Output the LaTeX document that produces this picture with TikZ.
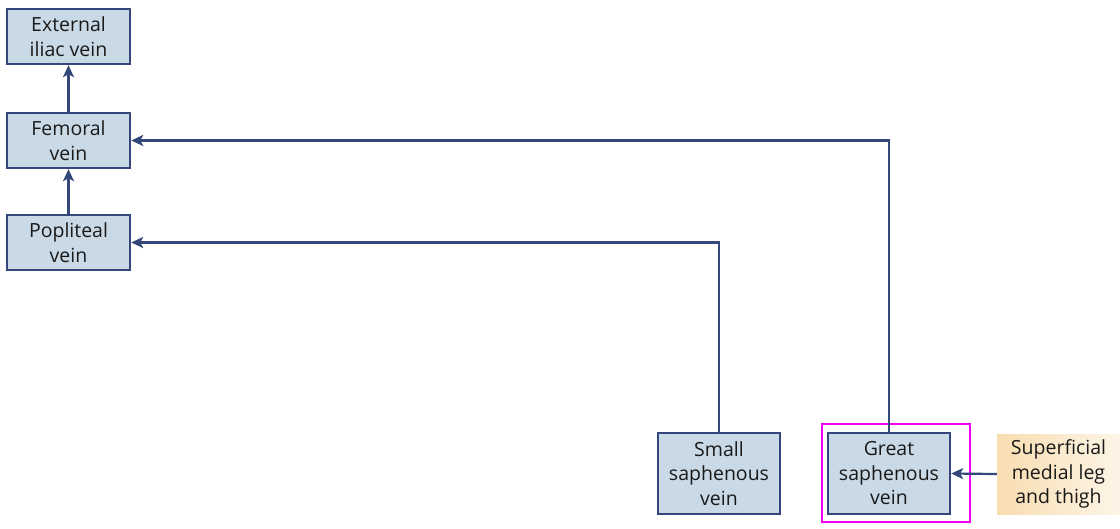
\documentclass[tikz,border=0pt]{standalone}
\usepackage{fontspec}
\setmainfont{Open Sans}
\usetikzlibrary{arrows.meta,shadings}
\definecolor{boxfill}{HTML}{C9DAE6}
\definecolor{boxline}{HTML}{34477A}
\definecolor{tan}{HTML}{F8DDB0}
\definecolor{hl}{HTML}{F000F0}
\tikzset{
  x=1pt,y=-1pt,
  vbox/.style={draw=boxline,line width=2.4pt,fill=boxfill,align=center,font=\fontsize{19.5}{24.5}\selectfont,text=black!90,inner sep=0pt},
  conn/.style={draw=boxline,line width=2.2pt,-{Stealth[length=12pt,width=11pt,inset=3pt]}},
}
\begin{document}
\begin{tikzpicture}
\useasboundingbox (0,0) rectangle (1120,528);
\node[vbox,minimum width=123pt,minimum height=55pt] (ext) at (68.5,36.5) {External\\iliac vein};
\node[vbox,minimum width=123pt,minimum height=55pt] (fem) at (68.5,140.5) {Femoral\\vein};
\node[vbox,minimum width=123pt,minimum height=55pt] (pop) at (68.5,242.5) {Popliteal\\vein};
\node[vbox,minimum width=122pt,minimum height=81pt] (ssv) at (719,473.5) {Small\\saphenous\\vein};
\node[vbox,minimum width=122pt,minimum height=81pt] (gsv) at (889,473.5) {Great\\saphenous\\vein};
\node[draw=hl,line width=2.5pt,minimum width=148pt,minimum height=98pt,inner sep=0pt] (hlbox) at (896,473) {};
\shade[left color=tan,right color=tan!30] (997,434) rectangle (1120,514);
\node[align=center,font=\fontsize{19.5}{24.5}\selectfont,text=black!90,inner sep=0pt,minimum width=123pt,minimum height=80pt] (sup) at (1058.5,474) {Superficial\\medial leg\\and thigh};
\draw[conn] (fem) -- (ext);
\draw[conn] (pop) -- (fem);
\draw[conn] (gsv.north) |- (fem.east);
\draw[conn] (ssv.north) |- (pop.east);
\draw[conn] (sup.west) -- (gsv.east);
\end{tikzpicture}
\end{document}
